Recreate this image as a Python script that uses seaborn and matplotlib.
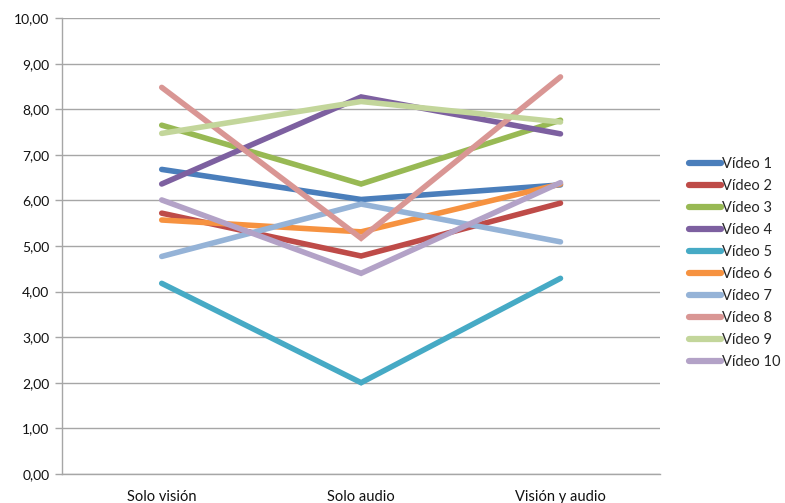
import numpy as np
import pandas as pd
import matplotlib
matplotlib.use("Agg")
import matplotlib.pyplot as plt
import seaborn as sns

# data
conditions = ["Solo visión", "Solo audio", "Visión y audio"]
videos = ["Vídeo %d" % i for i in range(1, 11)]
video_1 = [6.68, 6.02, 6.34]
video_2 = [5.72, 4.78, 5.94]
video_3 = [7.65, 6.36, 7.76]
video_4 = [6.36, 8.27, 7.46]
video_5 = [4.18, 2.00, 4.29]
video_6 = [5.57, 5.31, 6.36]
video_7 = [4.77, 5.92, 5.09]
video_8 = [8.48, 5.17, 8.71]
video_9 = [7.47, 8.17, 7.72]
video_10 = [6.01, 4.40, 6.39]
y_ticks = [0, 1, 2, 3, 4, 5, 6, 7, 8, 9, 10]
y_labels = ["0,00", "1,00", "2,00", "3,00", "4,00", "5,00",
            "6,00", "7,00", "8,00", "9,00", "10,00"]

colors = ["#4A7EBB", "#BE4B48", "#98B954", "#7D60A0", "#46AAC5",
          "#F69240", "#95B3D7", "#D99694", "#C3D69B", "#B3A2C7"]

series = [video_1, video_2, video_3, video_4, video_5,
          video_6, video_7, video_8, video_9, video_10]
rows = []
for name, vals in zip(videos, series):
    for i, v in enumerate(vals):
        rows.append({"video": name, "x": i, "valor": v})
df = pd.DataFrame(rows)

sns.set_style("white")
plt.rcParams["font.family"] = ["Lato", "DejaVu Sans"]

fig = plt.figure(figsize=(7.85, 5.03), dpi=100)
ax = fig.add_axes([0.079, 0.058, 0.762, 0.906])

ax.set_axisbelow(True)
for t in y_ticks:
    ax.axhline(t, color="#A6A6A6", lw=1.0, zorder=0)

sns.lineplot(data=df, x="x", y="valor", hue="video", hue_order=videos,
             palette=colors, linewidth=4.0, ax=ax, legend=True,
             solid_capstyle="round", solid_joinstyle="miter")

ax.set_xlim(-0.5, 2.5)
ax.set_ylim(0, 10)
ax.set_yticks(y_ticks)
ax.set_yticklabels(y_labels, fontsize=10, color="#111111")
ax.set_xticks([0, 1, 2])
ax.set_xticklabels(conditions, fontsize=10.5, color="#111111")
ax.set_xticks([-0.5, 0.5, 1.5, 2.5], minor=True)
ax.tick_params(axis="x", which="major", length=0, pad=12)
ax.tick_params(axis="x", which="minor", length=4, color="#A6A6A6", width=1)
ax.tick_params(axis="y", length=5, color="#A6A6A6", width=1, pad=4, left=True)
ax.set_xlabel("")
ax.set_ylabel("")

for side in ["top", "right"]:
    ax.spines[side].set_visible(False)
for side in ["left", "bottom"]:
    ax.spines[side].set_color("#A6A6A6")
    ax.spines[side].set_linewidth(1.0)

leg = ax.legend(loc="center left", bbox_to_anchor=(1.038, 0.462), frameon=False,
                fontsize=10.5, handlelength=2.2, handletextpad=0.1,
                labelspacing=0.55, borderaxespad=0)
for line in leg.get_lines():
    line.set_linewidth(4.5)
    line.set_solid_capstyle("round")

fig.savefig("out.png", dpi=100)
